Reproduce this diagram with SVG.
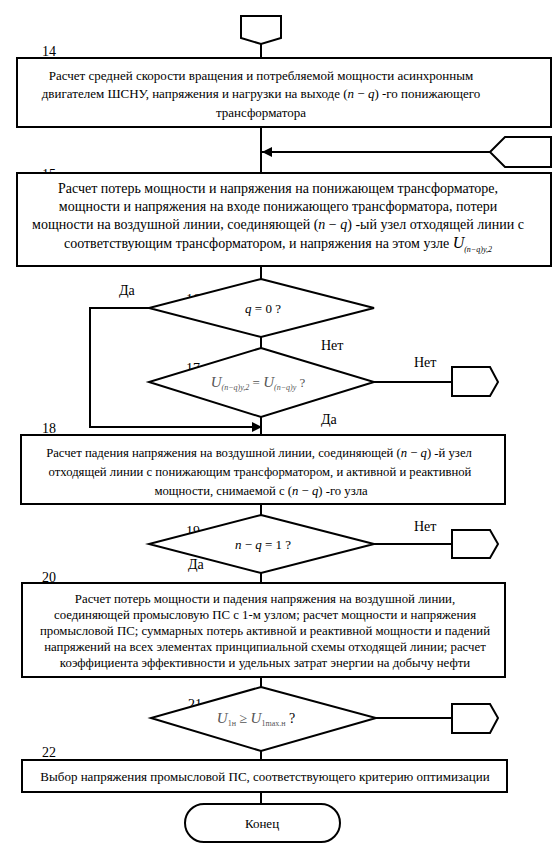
<svg xmlns="http://www.w3.org/2000/svg" width="558" height="855" viewBox="0 0 558 855">
<defs>
<style>
text{font-family:"Liberation Serif","Times New Roman",serif;font-size:13px;fill:#000}
.c{text-anchor:middle}
.i{font-style:italic}
.g{fill:#555}
.lb{font-size:14px}
.b15{font-size:14px}
.b18{font-size:12.7px}
.b20{font-size:12.8px}
.shape{fill:#fff;stroke:#000;stroke-width:2}
.ln{fill:none;stroke:#000;stroke-width:2}
</style>
<marker id="arr" viewBox="0 0 10 10" refX="10" refY="5" markerWidth="5" markerHeight="5" orient="auto" markerUnits="strokeWidth">
<path d="M0,0 L10,5 L0,10 z" fill="#000"/>
</marker>
</defs>
<rect width="558" height="855" fill="#fff"/>

<g id="labels">
<text class="lb" x="42" y="56">14</text>
<text class="lb" x="42" y="179">15</text>
<text class="lb" x="119" y="295">Да</text>
<text class="lb" x="186" y="304">16</text>
<text class="lb" x="321" y="350">Нет</text>
<text class="lb" x="186" y="373">17</text>
<text class="lb" x="414" y="367">Нет</text>
<text class="lb" x="321" y="424">Да</text>
<text class="lb" x="42" y="433">18</text>
<text class="lb" x="186" y="536">19</text>
<text class="lb" x="414" y="531">Нет</text>
<text class="lb" x="188" y="569">Да</text>
<text class="lb" x="42" y="582">20</text>
<text class="lb" x="188" y="709">21</text>
<text class="lb" x="42" y="757">22</text>
</g>

<g id="connectors">
<path class="ln" d="M261,44 V58"/>
<path class="ln" d="M261,127 V173"/>
<path class="ln" d="M490,152 H262" marker-end="url(#arr)"/>
<path class="ln" d="M261,266 V279"/>
<path class="ln" d="M261,337 V348"/>
<path class="ln" d="M149,308 H90 V427 H262" marker-end="url(#arr)"/>
<path class="ln" d="M374,382 H452"/>
<path class="ln" d="M261,417 V435"/>
<path class="ln" d="M261,504 V515"/>
<path class="ln" d="M374,544 H452"/>
<path class="ln" d="M261,573 V583"/>
<path class="ln" d="M261,677 V687"/>
<path class="ln" d="M376,718 H452"/>
<path class="ln" d="M261,751 V760"/>
<path class="ln" d="M261,792 V804"/>
</g>

<g id="start-connector">
<path class="shape" d="M241,16 H281 V38 L261,44 L241,38 Z"/>
</g>

<g id="node14">
<rect class="shape" x="17" y="58" width="534" height="69"/>
<text class="c" x="261" y="80">Расчет средней скорости вращения и потребляемой мощности асинхронным</text>
<text class="c" x="261" y="98">двигателем ШСНУ, напряжения и нагрузки на выходе  (<tspan class="i">n</tspan> − <tspan class="i">q</tspan>) -го понижающего</text>
<text class="c" x="261" y="117">трансформатора</text>
</g>

<g id="entry-connector">
<path class="shape" d="M505,137 H551 V167 H505 L490,152 Z"/>
</g>

<g id="node15">
<rect class="shape" x="17" y="173" width="534" height="93"/>
<text class="c b15" x="278" y="193">Расчет потерь мощности и напряжения на понижающем трансформаторе,</text>
<text class="c b15" x="278" y="211">мощности и напряжения на входе понижающего трансформатора, потери</text>
<text class="c b15" x="278" y="229">мощности на воздушной линии, соединяющей  (<tspan class="i">n</tspan> − <tspan class="i">q</tspan>) -ый узел отходящей линии с</text>
<text class="c b15" x="278" y="248">соответствующим трансформатором, и напряжения  на этом узле <tspan class="i" font-size="16">U</tspan><tspan class="i" font-size="8" dy="4">(n−q)y,2</tspan></text>
</g>

<g id="node16">
<path class="shape" d="M261,279 L374,308 L261,337 L149,308 Z"/>
<text class="c" x="263" y="313"><tspan class="i">q</tspan> = 0 ?</text>
</g>

<g id="node17">
<path class="shape" d="M261,348 L374,382 L261,417 L149,382 Z"/>
<text class="c g" x="258" y="387"><tspan class="i" font-size="15">U</tspan><tspan class="i" font-size="8" dy="3">(n−q)y,2</tspan><tspan dy="-3"> = </tspan><tspan class="i" font-size="15">U</tspan><tspan class="i" font-size="8" dy="3">(n−q)y</tspan><tspan dy="-3"> ?</tspan></text>
</g>

<g id="exit17">
<path class="shape" d="M452,367 H490 L498,382 L490,396 H452 Z"/>
</g>

<g id="node18">
<rect class="shape" x="21" y="435" width="484" height="69"/>
<text class="c b18" x="259" y="457">Расчет падения напряжения  на воздушной линии, соединяющей  (<tspan class="i">n</tspan> − <tspan class="i">q</tspan>) -й узел</text>
<text class="c b18" x="260" y="476">отходящей линии с понижающим трансформатором, и активной и реактивной</text>
<text class="c b18" x="261" y="495">мощности, снимаемой с  (<tspan class="i">n</tspan> − <tspan class="i">q</tspan>) -го узла</text>
</g>

<g id="node19">
<path class="shape" d="M261,515 L374,544 L261,573 L149,544 Z"/>
<text class="c" x="263" y="549"><tspan class="i">n</tspan> − <tspan class="i">q</tspan> = 1 ?</text>
</g>

<g id="exit19">
<path class="shape" d="M452,530 H490 L498,544 L490,558 H452 Z"/>
</g>

<g id="node20">
<rect class="shape" x="22" y="583" width="483" height="94"/>
<text class="c b20" x="265" y="603">Расчет потерь мощности и падения напряжения на воздушной линии,</text>
<text class="c b20" x="265" y="619">соединяющей промысловую ПС с 1-м узлом; расчет мощности и напряжения</text>
<text class="c b20" x="265" y="635">промысловой ПС; суммарных потерь активной и реактивной мощности и падений</text>
<text class="c b20" x="265" y="651">напряжений на всех элементах принципиальной схемы отходящей линии; расчет</text>
<text class="c b20" x="265" y="667">коэффициента эффективности и удельных затрат энергии на добычу нефти</text>
</g>

<g id="node21">
<path class="shape" d="M261,687 L376,718 L261,751 L151,718 Z"/>
<text class="c g" x="256" y="723"><tspan class="i" font-size="15">U</tspan><tspan font-size="8" dy="3">1н</tspan><tspan dy="-3" font-size="14"> ≥ </tspan><tspan class="i" font-size="15">U</tspan><tspan font-size="8" dy="3">1max.н</tspan><tspan dy="-3" font-size="14" fill="#000"> ?</tspan></text>
</g>

<g id="exit21">
<path class="shape" d="M452,704 H490 L498,718 L490,733 H452 Z"/>
</g>

<g id="node22">
<rect class="shape" x="22" y="760" width="485" height="32"/>
<text class="c" x="265" y="781">Выбор напряжения промысловой ПС, соответствующего критерию оптимизации</text>
</g>

<g id="end">
<rect class="shape" x="185" y="804" width="155" height="38" rx="19" ry="19"/>
<text class="c" x="262" y="828">Конец</text>
</g>
</svg>
